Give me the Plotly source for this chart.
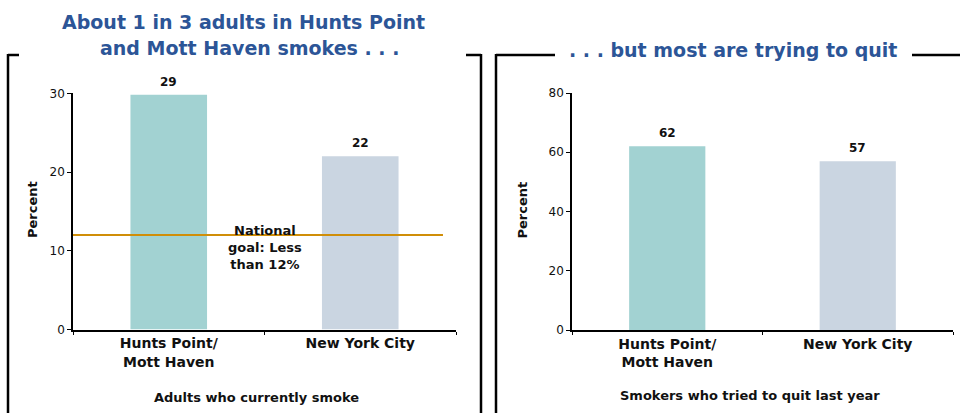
import plotly.graph_objects as go

# ---- data ----
categories = ["Hunts Point/<br>Mott Haven", "New York City"]
smoke_values = [29.8, 22.0]
smoke_labels = ["29", "22"]
quit_values = [62, 57]
quit_labels = ["62", "57"]
national_goal = 12
left_yticks = [0, 10, 20, 30]
right_yticks = [0, 20, 40, 60, 80]

left_title_lines = ["About 1 in 3 adults in Hunts Point", "and Mott Haven smokes . . ."]
right_title = ". . . but most are trying to quit"
left_xlabel = "Adults who currently smoke"
right_xlabel = "Smokers who tried to quit last year"
goal_label = "National<br>goal: Less<br>than 12%"

bar_colors = ["#A2D2D2", "#CAD5E1"]
title_color = "#2C5597"
goal_color = "#D08E08"
FONT = "DejaVu Sans"

W, H = 960, 413

def px(x):
    return x / W

def py(y):
    return 1 - y / H

fig = go.Figure()
fig.add_trace(go.Bar(x=categories, y=smoke_values,
                     marker=dict(color=bar_colors, line=dict(width=0)), width=0.4, xaxis="x", yaxis="y",
                     showlegend=False))
fig.add_trace(go.Bar(x=categories, y=quit_values,
                     marker=dict(color=bar_colors, line=dict(width=0)), width=0.4, xaxis="x2", yaxis="y2",
                     showlegend=False))

# value labels above bars
for xr, yr, vals, labs in [("x", "y", smoke_values, smoke_labels), ("x2", "y2", quit_values, quit_labels)]:
    for c, v, t in zip(categories, vals, labs):
        fig.add_annotation(x=c, y=v, xref=xr, yref=yr, text=f"<b>{t}</b>", showarrow=False,
                           xanchor="center", yanchor="middle", yshift=13,
                           font=dict(family=FONT, size=12, color="#111"))

xcommon = dict(showline=True, linecolor="#000", linewidth=2, ticks="outside", tickson="boundaries",
               ticklen=3, tickcolor="#000", showgrid=False, zeroline=False, automargin=False,
               tickfont=dict(family=FONT, size=14, color="#111"))
ycommon = dict(showline=True, linecolor="#000", linewidth=1.5, ticks="outside", ticklen=4,
               tickcolor="#000", showgrid=False, zeroline=False, automargin=False,
               tickfont=dict(family=FONT, size=12, color="#111"))

fig.update_layout(
    template="none",
    width=W, height=H, margin=dict(l=0, r=0, t=0, b=0, pad=0), autosize=False,
    paper_bgcolor="white", plot_bgcolor="white", bargap=0.6,
    font=dict(family=FONT, color="#111"),
    xaxis=dict(domain=[px(73), px(456)], anchor="y", **xcommon),
    yaxis=dict(domain=[py(329.5), py(93.3)], range=[0, 30], tickvals=left_yticks, anchor="x", **ycommon),
    xaxis2=dict(domain=[px(572), px(953)], anchor="y2", **xcommon),
    yaxis2=dict(domain=[py(330), py(93)], range=[0, 80], tickvals=right_yticks, anchor="x2", **ycommon),
)

# National goal line
fig.add_shape(type="line", xref="x domain", yref="y", x0=0, x1=0.966,
              y0=national_goal, y1=national_goal, line=dict(color=goal_color, width=2))
fig.add_annotation(x=0.5, xref="x", y=py(247), yref="paper", text=f"<b>{goal_label}</b>",
                   showarrow=False, font=dict(family=FONT, size=13, color="#111"), align="center",
                   xanchor="center", yanchor="middle")

# Panel frames (open top segments around the titles)
frame_lines = [
    (8, 55, 19, 55), (466, 55, 481, 55), (8, 54, 8, 413), (481, 54, 481, 413),
    (496, 55, 555, 55), (912, 55, 960, 55), (496, 54, 496, 413),
]
for x0, y0, x1, y1 in frame_lines:
    fig.add_shape(type="line", xref="paper", yref="paper", x0=px(x0), y0=py(y0), x1=px(x1), y1=py(y1),
                  line=dict(color="#000", width=2.5))

# Titles
for txt, (cx, cy) in zip(left_title_lines, [(243, 22), (249, 48)]):
    fig.add_annotation(x=px(cx), y=py(cy), xref="paper", yref="paper", text=f"<b>{txt}</b>",
                       showarrow=False, font=dict(family=FONT, size=19, color=title_color),
                       xanchor="center", yanchor="middle")
fig.add_annotation(x=px(733), y=py(50), xref="paper", yref="paper", text=f"<b>{right_title}</b>",
                   showarrow=False, font=dict(family=FONT, size=19, color=title_color),
                   xanchor="center", yanchor="middle")

# Axis titles
for cx, cy in [(32, 210), (521.5, 210)]:
    fig.add_annotation(x=px(cx), y=py(cy), xref="paper", yref="paper", text="<b>Percent</b>",
                       textangle=-90, showarrow=False, font=dict(family=FONT, size=13, color="#111"),
                       xanchor="center", yanchor="middle")
for txt, (cx, cy) in [(left_xlabel, (256, 397)), (right_xlabel, (749.5, 395))]:
    fig.add_annotation(x=px(cx), y=py(cy), xref="paper", yref="paper", text=f"<b>{txt}</b>",
                       showarrow=False, font=dict(family=FONT, size=13, color="#111"),
                       xanchor="center", yanchor="middle")

fig.for_each_xaxis(lambda a: a.update(ticktext=[f"<b>{c}</b>" for c in categories], tickvals=categories))

fig.write_html("out.html", config={"displayModeBar": False},
               post_script="document.body.style.margin='0';document.body.style.overflow='hidden';")
